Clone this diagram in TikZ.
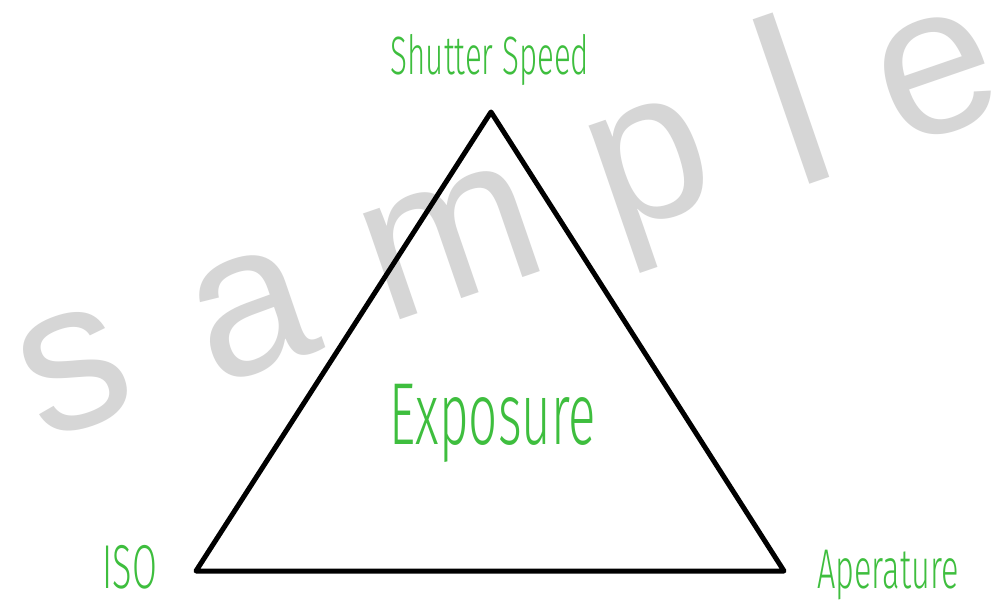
\documentclass[tikz,border=0pt]{standalone}
\usepackage{fontspec}
\setmainfont{Liberation Sans}
\IfFontExistsTF{Fira Sans Light}{\newfontfamily\hand[FakeStretch=0.58]{Fira Sans Light}}{\newfontfamily\hand[FakeStretch=0.58]{Fira Sans}}
\newfontfamily\wm{Liberation Sans}
\definecolor{labelgreen}{RGB}{62,190,62}
\definecolor{wmgray}{RGB}{214,214,214}
\begin{document}
\begin{tikzpicture}[x=1pt,y=-1pt,
  wmark/.style={text=wmgray, rotate=19, inner sep=0pt, anchor=center, font=\wm\fontsize{212}{212}\selectfont},
  lbl/.style={text=labelgreen, inner sep=0pt, anchor=base},
  edge/.style={line width=5pt, line join=round, draw=black}]
\useasboundingbox (0,0) rectangle (1002,609);
\fill[white] (0,0) rectangle (1002,609);
% watermark
\node[wmark] (ws) at (74,371) {s};
\node[wmark] (wa) at (252,314) {a};
\node[wmark] (wm) at (451,242) {m};
\node[wmark] (wp) at (657,184) {p};
\node[wmark, font=\wm\fontsize{240}{240}\selectfont] (wl) at (791,99) {l};
\node[wmark] (we) at (937,76) {e};
% triangle
\coordinate (top) at (491,112);
\coordinate (bl) at (196,571);
\coordinate (br) at (784,571);
\draw[edge] (top) -- (bl) -- (br) -- cycle;
% labels
\node[lbl, font=\hand\fontsize{54}{54}\selectfont] (shutter) at (490,75) {Shutter Speed};
\node[lbl, font=\hand\fontsize{62}{62}\selectfont] (iso) at (130,588) {ISO};
\node[lbl, font=\hand\fontsize{56}{56}\selectfont] (aper) at (888,588) {Aperature};
\node[lbl, font=\hand\fontsize{88}{88}\selectfont] (expo) at (493,445) {Exposure};
\end{tikzpicture}
\end{document}
